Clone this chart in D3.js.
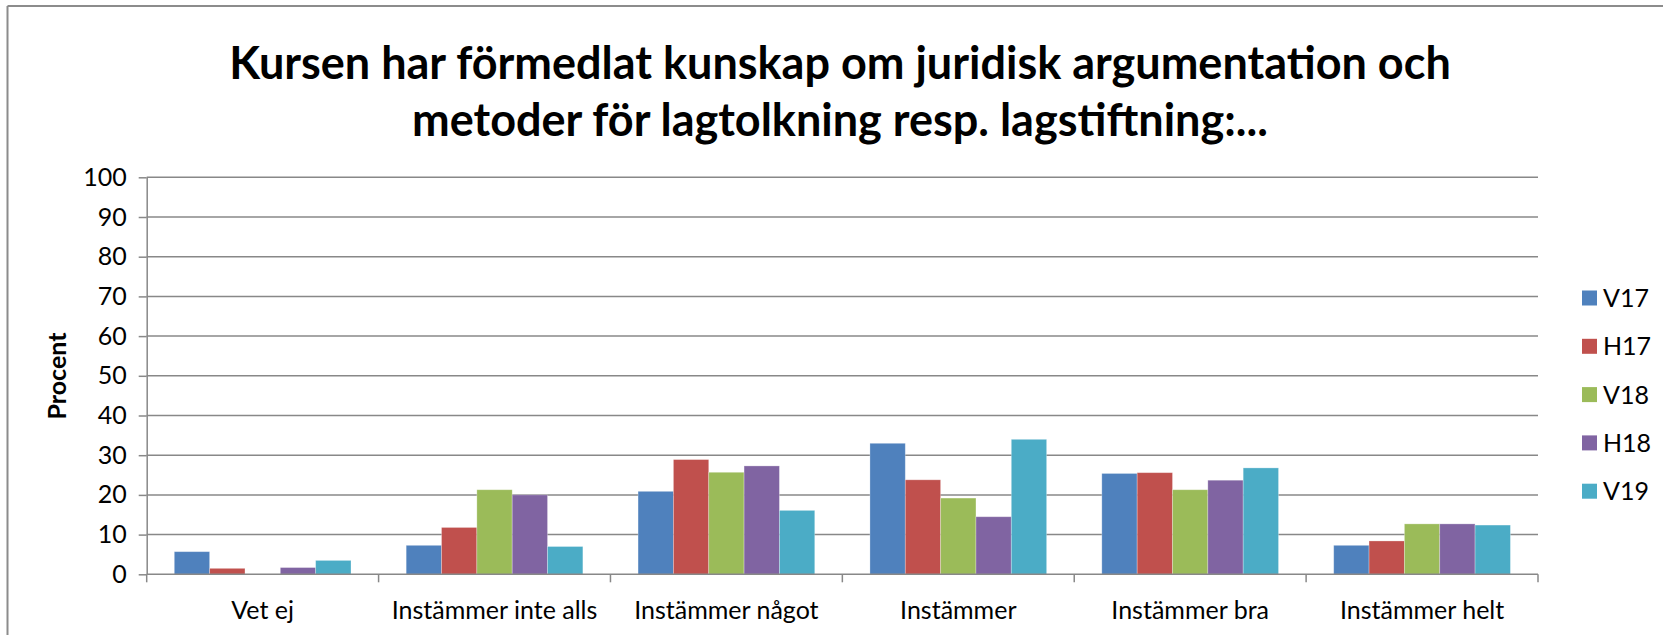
<!DOCTYPE html>
<html>
<head>
<meta charset="utf-8">
<script src="https://cdn.jsdelivr.net/npm/d3@7/dist/d3.min.js"></script>
<style>
  html, body { margin: 0; padding: 0; background: #ffffff; }
  svg { display: block; }
  text { font-family: Lato, "Open Sans", sans-serif; fill: #000; }
</style>
</head>
<body>
<svg id="chart" width="1663" height="635"></svg>
<script>
// Survey answers per term, in percent
const categories = ["Vet ej", "Instämmer inte alls", "Instämmer något", "Instämmer", "Instämmer bra", "Instämmer helt"];
const seriesNames = ["V17", "H17", "V18", "H18", "V19"];
const V17 = [5.7, 7.3, 20.9, 33.0, 25.4, 7.3];
const H17 = [1.5, 11.8, 28.9, 23.8, 25.6, 8.4];
const V18 = [0, 21.3, 25.7, 19.2, 21.3, 12.7];
const H18 = [1.7, 20.0, 27.3, 14.5, 23.7, 12.7];
const V19 = [3.5, 7.0, 16.1, 34.0, 26.8, 12.4];
const yTicks = [0, 10, 20, 30, 40, 50, 60, 70, 80, 90, 100];
const titleLines = ["Kursen har förmedlat kunskap om juridisk argumentation och", "metoder för lagtolkning resp. lagstiftning:..."];
const yTitle = "Procent";

const seriesValues = [V17, H17, V18, H18, V19];
const colors = ["#4F81BD", "#C0504D", "#9BBB59", "#8064A2", "#4BACC6"];

const svg = d3.select("#chart");
const W = 1663, H = 635;
const plot = { left: 146.7, right: 1538, top: 177.3, bottom: 574.3 };
const labelSize = "25px";

// outer frame (top and left edges)
svg.append("line").attr("x1", 7.5).attr("x2", W).attr("y1", 6).attr("y2", 6)
  .attr("stroke", "#8c8c8c").attr("stroke-width", 2);
svg.append("line").attr("x1", 7.5).attr("x2", 7.5).attr("y1", 6).attr("y2", H)
  .attr("stroke", "#8c8c8c").attr("stroke-width", 2);

// title
const title = svg.append("text").attr("text-anchor", "middle")
  .style("font-weight", "bold").style("font-size", "45px");
titleLines.forEach((t, i) => {
  title.append("tspan").attr("x", 840).attr("y", 79 + i * 57).text(t);
});

const x0 = d3.scaleBand().domain(categories).range([plot.left, plot.right]).padding(0);
const groupPad = x0.bandwidth() * 0.119;
const x1 = d3.scaleBand().domain(seriesNames).range([groupPad, x0.bandwidth() - groupPad]).padding(0);
const y = d3.scaleLinear().domain([0, 100]).range([plot.bottom, plot.top]);

// gridlines
svg.append("g").selectAll("line").data(yTicks.filter(d => d > 0)).join("line")
  .attr("x1", plot.left).attr("x2", plot.right)
  .attr("y1", d => y(d)).attr("y2", d => y(d))
  .attr("stroke", "#888888").attr("stroke-width", 1.5);

// y axis
const yAxis = svg.append("g").attr("transform", `translate(${plot.left},0)`)
  .call(d3.axisLeft(y).tickValues(yTicks).tickSize(8).tickPadding(12).tickSizeOuter(0));
yAxis.select(".domain").attr("stroke", "#888888").attr("stroke-width", 1.5);
yAxis.selectAll(".tick line").attr("stroke", "#888888").attr("stroke-width", 1.5);
yAxis.selectAll(".tick text").style("font-size", labelSize).style("font-family", "Lato, sans-serif").attr("fill", "#000");

// bars
const groups = svg.append("g").selectAll("g").data(categories).join("g")
  .attr("transform", c => `translate(${x0(c)},0)`);
groups.selectAll("rect")
  .data((c, ci) => seriesNames.map((s, si) => ({ s, si, v: seriesValues[si][ci] })))
  .join("rect")
  .attr("x", d => x1(d.s))
  .attr("width", x1.bandwidth())
  .attr("y", d => y(d.v))
  .attr("height", d => y(0) - y(d.v))
  .attr("fill", d => colors[d.si])
  .attr("stroke", "rgba(255,255,255,0.35)").attr("stroke-width", 0.8);

// x axis with ticks at category boundaries
const xg = svg.append("g");
xg.append("line").attr("x1", plot.left).attr("x2", plot.right)
  .attr("y1", plot.bottom).attr("y2", plot.bottom)
  .attr("stroke", "#888888").attr("stroke-width", 1.5);
const bounds = categories.map(c => x0(c)).concat([plot.right]);
xg.selectAll("line.tk").data(bounds).join("line").attr("class", "tk")
  .attr("x1", d => d).attr("x2", d => d)
  .attr("y1", plot.bottom).attr("y2", plot.bottom + 8)
  .attr("stroke", "#888888").attr("stroke-width", 1.5);
xg.selectAll("text").data(categories).join("text")
  .attr("x", c => x0(c) + x0.bandwidth() / 2).attr("y", 619)
  .attr("text-anchor", "middle").style("font-size", labelSize).text(c => c);

// y axis title
svg.append("text")
  .attr("transform", `translate(66,376) rotate(-90)`)
  .attr("text-anchor", "middle")
  .style("font-weight", "bold").style("font-size", labelSize)
  .text(yTitle);

// legend
const legend = svg.append("g").selectAll("g").data(seriesNames).join("g")
  .attr("transform", (d, i) => `translate(1582,${298 + i * 48.3})`);
legend.append("rect").attr("x", 0).attr("y", -7.5).attr("width", 15).attr("height", 15)
  .attr("fill", (d, i) => colors[i]);
legend.append("text").attr("x", 21).attr("y", 9).style("font-size", labelSize).text(d => d);
</script>
</body>
</html>
